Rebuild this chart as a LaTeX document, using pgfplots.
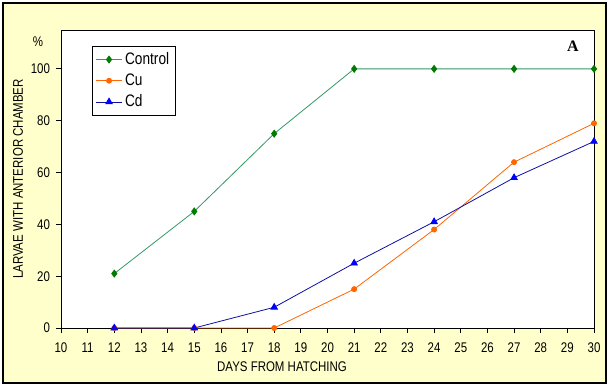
\documentclass[border=0pt]{standalone}
\usepackage{pgfplots}
\pgfplotsset{compat=1.18}
\usepackage{fontspec}
\setmainfont{Liberation Sans}[FakeStretch=0.82]
\newfontfamily\timesfont{Liberation Serif}
\definecolor{bgyellow}{HTML}{FFFFCC}
\definecolor{ctrlline}{HTML}{339966}
\definecolor{ctrlmark}{HTML}{007A00}
\definecolor{cuorange}{HTML}{FF6600}
\definecolor{cdline}{HTML}{1010A0}
\definecolor{cdmark}{HTML}{0000FF}
\begin{document}
\begin{tikzpicture}
\useasboundingbox (-45.75pt,-44.25pt) rectangle (411pt,246pt);
\filldraw[fill=bgyellow, draw=black, line width=0.9pt] (-43.5pt,-41.25pt) rectangle (408.75pt,243.75pt);
\begin{axis}[
  at={(0pt,0pt)}, anchor=south west,
  scale only axis, width=399.75pt, height=223.5pt,
  xmin=10, xmax=30, ymin=0, ymax=115,
  xtick={10,11,...,30}, ytick={0,20,...,100},
  tick align=outside, major tick length=3.75pt,
  xtick pos=bottom, ytick pos=left,
  tick style={black, line width=0.6pt},
  axis line style={black, line width=0.75pt},
  axis background/.style={fill=white},
  /pgf/number format/assume math mode=true,
  tick label style={font=\fontsize{10.5}{11}\selectfont},
  xticklabel style={yshift=-4pt},
  yticklabel style={xshift=-1pt},
  legend style={at={(0.058,0.946)}, anchor=north west, draw=black, line width=0.6pt, fill=white,
    font=\fontsize{12.5}{14}\selectfont, row sep=1.5pt, inner sep=2.5pt},
  legend cell align=left,
  legend image code/.code={\draw[mark repeat=2,mark phase=2,#1] plot coordinates {(0pt,0pt) (9.75pt,0pt) (19.5pt,0pt)};},
]
\addplot[color=ctrlline, line width=0.6pt, mark=diamond*, mark size=2.6pt, mark options={draw=ctrlmark, fill=ctrlmark}]
  coordinates {(12,21) (15,45) (18,75) (21,100) (24,100) (27,100) (30,100)};
\addlegendentry{Control}
\addplot[color=cuorange, line width=0.6pt, mark=*, mark size=1.9pt, mark options={draw=cuorange, fill=cuorange}]
  coordinates {(12,0) (15,0) (18,0) (21,15) (24,38) (27,64) (30,79)};
\addlegendentry{Cu}
\addplot[color=cdline, line width=0.6pt, mark=triangle*, mark size=2.8pt, mark options={draw=cdmark, fill=cdmark}]
  coordinates {(12,0) (15,0) (18,8) (21,25) (24,41) (27,58) (30,72)};
\addlegendentry{Cd}
\end{axis}
\node[font=\fontsize{10.5}{12}\selectfont] at (165.75pt,-29.25pt) {DAYS FROM HATCHING};
\node[font=\fontsize{10.5}{12}\selectfont, rotate=90] at (-32.25pt,111.75pt) {LARVAE WITH ANTERIOR CHAMBER};
\node[font=\fontsize{10.5}{11}\selectfont] at (-17.25pt,214.5pt) {\%};
\node[font=\timesfont\bfseries\fontsize{12}{13}\selectfont] at (384pt,211.5pt) {A};
\end{tikzpicture}
\end{document}
